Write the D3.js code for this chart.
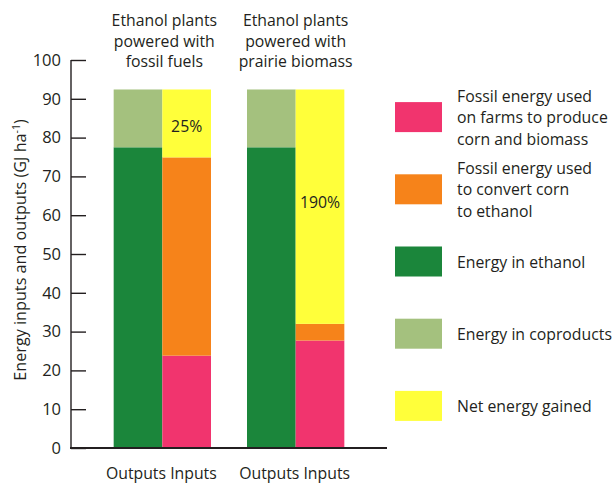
<!DOCTYPE html>
<html><head><meta charset="utf-8">
<script src="https://cdn.jsdelivr.net/npm/d3@7"></script>
<style>body{margin:0;background:#fff}svg{display:block}text{font-family:"Open Sans",sans-serif;fill:#231f20}</style>
</head><body>
<svg id="c" width="614" height="484"></svg>
<script>
const groups = ["fossil", "prairie"];
const groupTitles = [["Ethanol plants","powered with","fossil fuels"],["Ethanol plants","powered with","prairie biomass"]];
const sides = ["Outputs", "Inputs"];
const seriesKeys = ["farm","convert","ethanol","coproducts","net"];
const seriesLabels = [["Fossil energy used","on farms to produce","corn and biomass"],["Fossil energy used","to convert corn","to ethanol"],["Energy in ethanol"],["Energy in coproducts"],["Net energy gained"]];
const colors = ["#f1346e","#f6831a","#1b863b","#a4c17e","#ffff3a"];
// values in GJ/ha
const outputsEthanol = [77.5, 77.5];
const outputsCoproducts = [14.9, 14.9];
const inputsFarm = [23.8, 27.7];
const inputsConvert = [51.1, 4.3];
const inputsNet = [17.5, 60.4];
const netLabels = ["25%", "190%"];
const yTicks = [0,10,20,30,40,50,60,70,80,90,100];

const FS = 15.8;
const svg = d3.select("#c");
const x = d3.scaleBand().domain(groups).range([71,387]).paddingInner(0.27).paddingOuter(0.32);
const xs = d3.scaleBand().domain(sides).range([0, x.bandwidth()]);
const y = d3.scaleLinear().domain([0,100]).range([448,60]);
const color = d3.scaleOrdinal().domain(seriesKeys).range(colors);

const segs = [];
groups.forEach((g,i)=>{
  const outStack = [["ethanol",outputsEthanol[i]],["coproducts",outputsCoproducts[i]]];
  const inStack = [["farm",inputsFarm[i]],["convert",inputsConvert[i]],["net",inputsNet[i]]];
  [["Outputs",outStack],["Inputs",inStack]].forEach(([s,st])=>{
    let acc=0;
    st.forEach(([k,v])=>{segs.push({g,s,k,y0:acc,y1:acc+v});acc+=v;});
  });
});
svg.append("g").selectAll("rect").data(segs).join("rect")
  .attr("x",d=>x(d.g)+xs(d.s))
  .attr("width",xs.bandwidth())
  .attr("y",d=>y(d.y1))
  .attr("height",d=>y(d.y0)-y(d.y1))
  .attr("fill",d=>color(d.k));

groups.forEach((g,i)=>{
  const top = inputsFarm[i]+inputsConvert[i]+inputsNet[i];
  const base = inputsFarm[i]+inputsConvert[i];
  const yy = i===0 ? y(top)+43 : y((top+base)/2)+1.5;
  svg.append("text").attr("x",x(g)+xs("Inputs")+xs.bandwidth()/2).attr("y",yy)
    .attr("text-anchor","middle").attr("font-size",FS).text(netLabels[i]);
});

const ax = svg.append("g").attr("transform","translate(71,0)")
  .call(d3.axisLeft(y).tickValues(yTicks).tickSize(-15).tickSizeOuter(0).tickPadding(10));
ax.select(".domain").remove();
ax.selectAll(".tick line").attr("stroke","#231f20").attr("stroke-width",1.4);
ax.selectAll(".tick text").attr("font-size",16.5).attr("font-family","'Open Sans',sans-serif").attr("fill","#231f20");
svg.append("line").attr("x1",71).attr("x2",71).attr("y1",y(100)).attr("y2",y(0)).attr("stroke","#231f20").attr("stroke-width",1.4);
svg.append("line").attr("x1",70).attr("x2",387).attr("y1",y(0)).attr("y2",y(0)).attr("stroke","#231f20").attr("stroke-width",2);

const yt = svg.append("text").attr("transform","translate(26,250) rotate(-90)").attr("text-anchor","middle").attr("font-size",16.2);
yt.append("tspan").text("Energy inputs and outputs (GJ ha");
yt.append("tspan").attr("font-size",10.5).attr("dy",-6).text("-1");
yt.append("tspan").attr("dy",6).text(")");

groups.forEach((g,i)=>{
  const cx = x(g)+x.bandwidth()/2+(i===0?2:0);
  const t = svg.append("text").attr("text-anchor","middle").attr("font-size",FS).attr("y",26);
  groupTitles[i].forEach((l,j)=>t.append("tspan").attr("x",cx).attr("dy",j?20.7:0).text(l));
  svg.append("text").attr("text-anchor","middle").attr("font-size",FS)
    .attr("x",x(g)+x.bandwidth()/2-1).attr("y",479).text(sides.join(" "));
});

const ly = d3.scaleBand().domain(seriesKeys).range([81,442]);
const lg = svg.append("g").selectAll("g").data(seriesKeys).join("g")
  .attr("transform",d=>`translate(395,${ly(d)+ly.bandwidth()/2})`);
lg.append("rect").attr("x",0).attr("y",-15).attr("width",47).attr("height",30).attr("fill",d=>color(d));
lg.each(function(d,i){
  const lines = seriesLabels[i];
  const t = d3.select(this).append("text").attr("font-size",FS);
  lines.forEach((l,j)=>t.append("tspan").attr("x",62).attr("y",6+(j-(lines.length-1)/2)*21.5).text(l));
});
</script>
</body></html>
